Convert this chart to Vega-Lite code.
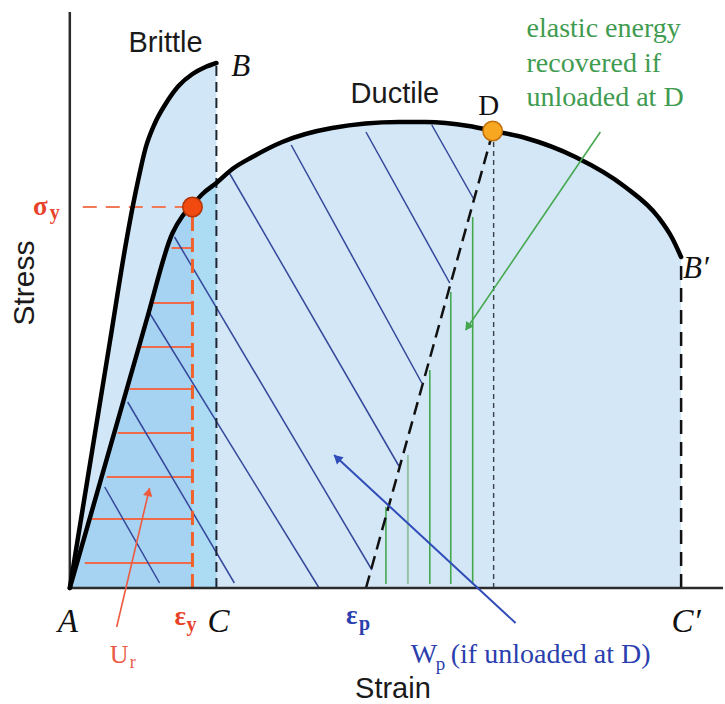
{
  "$schema": "https://vega.github.io/schema/vega-lite/v6.json",
  "width": 725,
  "height": 704,
  "autosize": {"type": "fit", "contains": "padding"},
  "padding": 0,
  "background": "white",
  "config": {"view": {"stroke": null}},
  "datasets": {
    "ductile": [
      {"strain": 0, "stress": 0}, {"strain": 77, "stress": 268}, {"strain": 103, "stress": 355},
      {"strain": 113, "stress": 372}, {"strain": 123, "stress": 383}, {"strain": 133, "stress": 394},
      {"strain": 147, "stress": 405}, {"strain": 163, "stress": 419}, {"strain": 183, "stress": 431},
      {"strain": 213, "stress": 446}, {"strain": 263, "stress": 460}, {"strain": 330, "stress": 466},
      {"strain": 357, "stress": 466}, {"strain": 400, "stress": 462}, {"strain": 425, "stress": 457},
      {"strain": 457, "stress": 450}, {"strain": 507, "stress": 431}, {"strain": 557, "stress": 401},
      {"strain": 590, "stress": 371}, {"strain": 604, "stress": 350}, {"strain": 613, "stress": 331}
    ],
    "brittle": [
      {"strain": 0, "stress": 0}, {"strain": 40, "stress": 245}, {"strain": 56, "stress": 343},
      {"strain": 63, "stress": 381}, {"strain": 69, "stress": 410}, {"strain": 76, "stress": 440},
      {"strain": 85, "stress": 464}, {"strain": 96, "stress": 484}, {"strain": 109, "stress": 502},
      {"strain": 123, "stress": 514}, {"strain": 136, "stress": 521}, {"strain": 147, "stress": 525}
    ],
    "resilienceHatch": [
      {"strain": 102, "stress": 340, "strainEnd": 123, "stressEnd": 340},
      {"strain": 82, "stress": 285, "strainEnd": 123, "stressEnd": 285},
      {"strain": 68, "stress": 241, "strainEnd": 123, "stressEnd": 241},
      {"strain": 60, "stress": 199, "strainEnd": 123, "stressEnd": 199},
      {"strain": 48, "stress": 155, "strainEnd": 123, "stressEnd": 155},
      {"strain": 37, "stress": 111, "strainEnd": 123, "stressEnd": 111},
      {"strain": 22, "stress": 69, "strainEnd": 123, "stressEnd": 69},
      {"strain": 15, "stress": 25, "strainEnd": 123, "stressEnd": 25}
    ],
    "plasticHatch": [
      {"strain": 35, "stress": 101, "strainEnd": 90, "stressEnd": 5},
      {"strain": 58, "stress": 186, "strainEnd": 165, "stressEnd": 5},
      {"strain": 80, "stress": 275, "strainEnd": 250, "stressEnd": 0},
      {"strain": 105, "stress": 351, "strainEnd": 303, "stressEnd": 18},
      {"strain": 160, "stress": 415, "strainEnd": 330, "stressEnd": 122},
      {"strain": 222, "stress": 443, "strainEnd": 353, "stressEnd": 205},
      {"strain": 297, "stress": 456, "strainEnd": 381, "stressEnd": 305},
      {"strain": 363, "stress": 463, "strainEnd": 405, "stressEnd": 389}
    ],
    "elasticLines": [
      {"strain": 317, "stress": 4, "strainEnd": 317, "stressEnd": 81, "tone": "green"},
      {"strain": 339, "stress": 4, "strainEnd": 339, "stressEnd": 133, "tone": "grey"},
      {"strain": 361, "stress": 4, "strainEnd": 361, "stressEnd": 218, "tone": "green"},
      {"strain": 382, "stress": 4, "strainEnd": 382, "stressEnd": 296, "tone": "green"},
      {"strain": 404, "stress": 4, "strainEnd": 404, "stressEnd": 371, "tone": "green"}
    ],
    "guides": [
      {"name": "C", "strain": 147, "stress": 0, "strainEnd": 147, "stressEnd": 525},
      {"name": "Cprime", "strain": 613, "stress": 0, "strainEnd": 613, "stressEnd": 331},
      {"name": "Dproj", "strain": 425, "stress": 0, "strainEnd": 425, "stressEnd": 450},
      {"name": "unload", "strain": 297, "stress": 0, "strainEnd": 423, "stressEnd": 452},
      {"name": "epsY", "strain": 123, "stress": 0, "strainEnd": 123, "stressEnd": 381},
      {"name": "sigY", "strain": 13, "stress": 381, "strainEnd": 123, "stressEnd": 381}
    ],
    "axesLines": [
      {"strain": 0, "stress": 0, "strainEnd": 0, "stressEnd": 576},
      {"strain": 0, "stress": 0, "strainEnd": 655, "stressEnd": 0}
    ],
    "arrows": [
      {"name": "elastic", "strain": 532, "stress": 456, "strainEnd": 397, "stressEnd": 258},
      {"name": "plastic", "strain": 447, "stress": -35, "strainEnd": 265, "stressEnd": 133},
      {"name": "resilience", "strain": 47, "stress": -39, "strainEnd": 80, "stressEnd": 100}
    ],
    "arrowHeads": [
      {"name": "elastic", "strain": 399, "stress": 261},
      {"name": "plastic", "strain": 268, "stress": 130},
      {"name": "resilience", "strain": 79, "stress": 96}
    ],
    "keyPoints": [
      {"name": "yield", "strain": 123, "stress": 381},
      {"name": "D", "strain": 424, "stress": 457}
    ],
    "labels": [
      {"kind": "sans", "label": "Brittle", "strain": 96, "stress": 536},
      {"kind": "sans", "label": "Ductile", "strain": 326, "stress": 485},
      {"kind": "sans", "label": "Strain", "strain": 324, "stress": -110},
      {"kind": "italic", "label": "B", "strain": 162, "stress": 512},
      {"kind": "italic", "label": "B′", "strain": 615, "stress": 310},
      {"kind": "italicC", "label": "A", "strain": -2, "stress": -44},
      {"kind": "italicC", "label": "C", "strain": 149, "stress": -44},
      {"kind": "italicC", "label": "C′", "strain": 618, "stress": -44},
      {"kind": "upright", "label": "D", "strain": 420, "stress": 473},
      {"kind": "green", "label": "elastic energy", "strain": 458, "stress": 551},
      {"kind": "green", "label": "recovered if", "strain": 458, "stress": 516},
      {"kind": "green", "label": "unloaded at D", "strain": 458, "stress": 482},
      {"kind": "blue", "label": "W", "strain": 342, "stress": -75},
      {"kind": "blue", "label": "(if unloaded at D)", "strain": 382, "stress": -75},
      {"kind": "blueSub", "label": "p", "strain": 367, "stress": -82},
      {"kind": "blueBold", "label": "ε", "strain": 277, "stress": -36},
      {"kind": "blueBoldSub", "label": "p", "strain": 290, "stress": -42},
      {"kind": "redBold", "label": "ε", "strain": 105, "stress": -37},
      {"kind": "redBold", "label": "σ", "strain": -37, "stress": 373},
      {"kind": "redBoldSub", "label": "y", "strain": 117, "stress": -43},
      {"kind": "redBoldSub", "label": "y", "strain": -20, "stress": 369},
      {"kind": "red", "label": "U", "strain": 40, "stress": -75},
      {"kind": "redSub", "label": "r", "strain": 60, "stress": -80}
    ]
  },
  "encoding": {
    "x": {"field": "strain", "type": "quantitative", "axis": null,
          "scale": {"domain": [-70, 655], "nice": false, "zero": false}},
    "y": {"field": "stress", "type": "quantitative", "axis": null,
          "scale": {"domain": [-116, 588], "nice": false, "zero": false}}
  },
  "layer": [
    {"data": {"name": "ductile"},
     "mark": {"type": "area", "color": "#d3e7f6", "interpolate": "monotone"},
     "encoding": {"y2": {"datum": 0}}},
    {"data": {"name": "brittle"},
     "mark": {"type": "area", "color": "#d1e7f7", "interpolate": "monotone"},
     "encoding": {"y2": {"datum": 0}}},
    {"data": {"name": "ductile"},
     "transform": [{"filter": "datum.strain <= 147"}],
     "mark": {"type": "area", "color": "#acdbf4", "interpolate": "monotone"},
     "encoding": {"y2": {"datum": 0}}},
    {"data": {"name": "ductile"},
     "transform": [{"filter": "datum.strain <= 123"}],
     "mark": {"type": "area", "color": "#a6d3f1", "interpolate": "monotone"},
     "encoding": {"y2": {"datum": 0}}},
    {"data": {"name": "resilienceHatch"},
     "mark": {"type": "rule", "color": "#ee6a48", "strokeWidth": 2},
     "encoding": {"x2": {"field": "strainEnd"}, "y2": {"field": "stressEnd"}}},
    {"data": {"name": "plasticHatch"},
     "mark": {"type": "rule", "color": "#35479a", "strokeWidth": 1.5},
     "encoding": {"x2": {"field": "strainEnd"}, "y2": {"field": "stressEnd"}}},
    {"data": {"name": "elasticLines"},
     "transform": [{"filter": "datum.tone === 'green'"}],
     "mark": {"type": "rule", "color": "#45a84f", "strokeWidth": 1.6},
     "encoding": {"x2": {"field": "strainEnd"}, "y2": {"field": "stressEnd"}}},
    {"data": {"name": "elasticLines"},
     "transform": [{"filter": "datum.tone === 'grey'"}],
     "mark": {"type": "rule", "color": "#93c2a4", "strokeWidth": 2},
     "encoding": {"x2": {"field": "strainEnd"}, "y2": {"field": "stressEnd"}}},
    {"data": {"name": "guides"},
     "transform": [{"filter": "datum.name === 'C'"}],
     "mark": {"type": "rule", "color": "#1c2530", "strokeWidth": 2, "strokeDash": [10, 6]},
     "encoding": {"x2": {"field": "strainEnd"}, "y2": {"field": "stressEnd"}}},
    {"data": {"name": "guides"},
     "transform": [{"filter": "datum.name === 'Cprime'"}],
     "mark": {"type": "rule", "color": "#111111", "strokeWidth": 2.5, "strokeDash": [14, 8]},
     "encoding": {"x2": {"field": "strainEnd"}, "y2": {"field": "stressEnd"}}},
    {"data": {"name": "guides"},
     "transform": [{"filter": "datum.name === 'Dproj'"}],
     "mark": {"type": "rule", "color": "#3a3f48", "strokeWidth": 1.4, "strokeDash": [5, 4]},
     "encoding": {"x2": {"field": "strainEnd"}, "y2": {"field": "stressEnd"}}},
    {"data": {"name": "guides"},
     "transform": [{"filter": "datum.name === 'unload'"}],
     "mark": {"type": "rule", "color": "#111111", "strokeWidth": 2.5, "strokeDash": [13, 7]},
     "encoding": {"x2": {"field": "strainEnd"}, "y2": {"field": "stressEnd"}}},
    {"data": {"name": "guides"},
     "transform": [{"filter": "datum.name === 'epsY'"}],
     "mark": {"type": "rule", "color": "#f0622c", "strokeWidth": 3, "strokeDash": [14, 7]},
     "encoding": {"x2": {"field": "strainEnd"}, "y2": {"field": "stressEnd"}}},
    {"data": {"name": "guides"},
     "transform": [{"filter": "datum.name === 'sigY'"}],
     "mark": {"type": "rule", "color": "#f07a58", "strokeWidth": 2, "strokeDash": [14, 9]},
     "encoding": {"x2": {"field": "strainEnd"}, "y2": {"field": "stressEnd"}}},
    {"data": {"name": "axesLines"},
     "mark": {"type": "rule", "color": "#2b2b2b", "strokeWidth": 2.5},
     "encoding": {"x2": {"field": "strainEnd"}, "y2": {"field": "stressEnd"}}},
    {"data": {"name": "brittle"},
     "mark": {"type": "line", "color": "#000000", "strokeWidth": 4.5, "interpolate": "monotone", "strokeCap": "round"},
     "encoding": {}},
    {"data": {"name": "ductile"},
     "mark": {"type": "line", "color": "#000000", "strokeWidth": 4.5, "interpolate": "monotone", "strokeCap": "round"},
     "encoding": {}},
    {"data": {"name": "arrows"},
     "transform": [{"filter": "datum.name === 'elastic'"}],
     "mark": {"type": "rule", "color": "#45a84f", "strokeWidth": 1.6},
     "encoding": {"x2": {"field": "strainEnd"}, "y2": {"field": "stressEnd"}}},
    {"data": {"name": "arrows"},
     "transform": [{"filter": "datum.name === 'plastic'"}],
     "mark": {"type": "rule", "color": "#2f4cb8", "strokeWidth": 2},
     "encoding": {"x2": {"field": "strainEnd"}, "y2": {"field": "stressEnd"}}},
    {"data": {"name": "arrows"},
     "transform": [{"filter": "datum.name === 'resilience'"}],
     "mark": {"type": "rule", "color": "#ee5a40", "strokeWidth": 1.6},
     "encoding": {"x2": {"field": "strainEnd"}, "y2": {"field": "stressEnd"}}},
    {"data": {"name": "arrowHeads"},
     "transform": [{"filter": "datum.name === 'elastic'"}],
     "mark": {"type": "point", "shape": "triangle-up", "filled": true, "opacity": 1, "color": "#45a84f", "size": 90, "angle": 214},
     "encoding": {}},
    {"data": {"name": "arrowHeads"},
     "transform": [{"filter": "datum.name === 'plastic'"}],
     "mark": {"type": "point", "shape": "triangle-up", "filled": true, "opacity": 1, "color": "#2f4cb8", "size": 100, "angle": 313},
     "encoding": {}},
    {"data": {"name": "arrowHeads"},
     "transform": [{"filter": "datum.name === 'resilience'"}],
     "mark": {"type": "point", "shape": "triangle-up", "filled": true, "opacity": 1, "color": "#ee5a40", "size": 90, "angle": 13},
     "encoding": {}},
    {"data": {"name": "keyPoints"},
     "transform": [{"filter": "datum.name === 'yield'"}],
     "mark": {"type": "point", "shape": "circle", "filled": true, "opacity": 1, "color": "#f04a10", "stroke": "#b23408", "strokeWidth": 1.5, "size": 380},
     "encoding": {}},
    {"data": {"name": "keyPoints"},
     "transform": [{"filter": "datum.name === 'D'"}],
     "mark": {"type": "point", "shape": "circle", "filled": true, "opacity": 1, "color": "#f8a820", "stroke": "#c0700c", "strokeWidth": 1.5, "size": 380},
     "encoding": {}},
    {"data": {"name": "labels"},
     "transform": [{"filter": "datum.kind === 'sans'"}],
     "mark": {"type": "text", "font": "Liberation Sans", "fontSize": 29, "color": "#1a1a1a", "align": "center", "baseline": "alphabetic"},
     "encoding": {"text": {"field": "label"}}},
    {"data": {"values": [{"label": "Stress", "strain": -36, "stress": 305}]},
     "mark": {"type": "text", "font": "Liberation Sans", "fontSize": 30, "color": "#1a1a1a", "align": "center", "baseline": "alphabetic", "angle": 270},
     "encoding": {"text": {"field": "label"}}},
    {"data": {"name": "labels"},
     "transform": [{"filter": "datum.kind === 'italic'"}],
     "mark": {"type": "text", "font": "Liberation Serif", "fontStyle": "italic", "fontSize": 31, "color": "#111111", "align": "left", "baseline": "alphabetic"},
     "encoding": {"text": {"field": "label"}}},
    {"data": {"name": "labels"},
     "transform": [{"filter": "datum.kind === 'italicC'"}],
     "mark": {"type": "text", "font": "Liberation Serif", "fontStyle": "italic", "fontSize": 33, "color": "#111111", "align": "center", "baseline": "alphabetic"},
     "encoding": {"text": {"field": "label"}}},
    {"data": {"name": "labels"},
     "transform": [{"filter": "datum.kind === 'upright'"}],
     "mark": {"type": "text", "font": "Liberation Serif", "fontSize": 29, "color": "#111111", "align": "center", "baseline": "alphabetic"},
     "encoding": {"text": {"field": "label"}}},
    {"data": {"name": "labels"},
     "transform": [{"filter": "datum.kind === 'green'"}],
     "mark": {"type": "text", "font": "Liberation Serif", "fontSize": 28, "color": "#3f9b50", "align": "left", "baseline": "alphabetic"},
     "encoding": {"text": {"field": "label"}}},
    {"data": {"name": "labels"},
     "transform": [{"filter": "datum.kind === 'blue'"}],
     "mark": {"type": "text", "font": "Liberation Serif", "fontSize": 28, "color": "#2b3fae", "align": "left", "baseline": "alphabetic"},
     "encoding": {"text": {"field": "label"}}},
    {"data": {"name": "labels"},
     "transform": [{"filter": "datum.kind === 'blueSub'"}],
     "mark": {"type": "text", "font": "Liberation Serif", "fontSize": 19, "color": "#2b3fae", "align": "left", "baseline": "alphabetic"},
     "encoding": {"text": {"field": "label"}}},
    {"data": {"name": "labels"},
     "transform": [{"filter": "datum.kind === 'blueBold'"}],
     "mark": {"type": "text", "font": "Liberation Serif", "fontWeight": "bold", "fontSize": 27, "color": "#2b3fae", "align": "left", "baseline": "alphabetic"},
     "encoding": {"text": {"field": "label"}}},
    {"data": {"name": "labels"},
     "transform": [{"filter": "datum.kind === 'blueBoldSub'"}],
     "mark": {"type": "text", "font": "Liberation Serif", "fontWeight": "bold", "fontSize": 20, "color": "#2b3fae", "align": "left", "baseline": "alphabetic"},
     "encoding": {"text": {"field": "label"}}},
    {"data": {"name": "labels"},
     "transform": [{"filter": "datum.kind === 'redBold'"}],
     "mark": {"type": "text", "font": "Liberation Serif", "fontWeight": "bold", "fontSize": 27, "color": "#e8432a", "align": "left", "baseline": "alphabetic"},
     "encoding": {"text": {"field": "label"}}},
    {"data": {"name": "labels"},
     "transform": [{"filter": "datum.kind === 'redBoldSub'"}],
     "mark": {"type": "text", "font": "Liberation Serif", "fontWeight": "bold", "fontSize": 20, "color": "#e8432a", "align": "left", "baseline": "alphabetic"},
     "encoding": {"text": {"field": "label"}}},
    {"data": {"name": "labels"},
     "transform": [{"filter": "datum.kind === 'red'"}],
     "mark": {"type": "text", "font": "Liberation Serif", "fontSize": 26, "color": "#ea5a48", "align": "left", "baseline": "alphabetic"},
     "encoding": {"text": {"field": "label"}}},
    {"data": {"name": "labels"},
     "transform": [{"filter": "datum.kind === 'redSub'"}],
     "mark": {"type": "text", "font": "Liberation Serif", "fontSize": 18, "color": "#ea5a48", "align": "left", "baseline": "alphabetic"},
     "encoding": {"text": {"field": "label"}}}
  ]
}
